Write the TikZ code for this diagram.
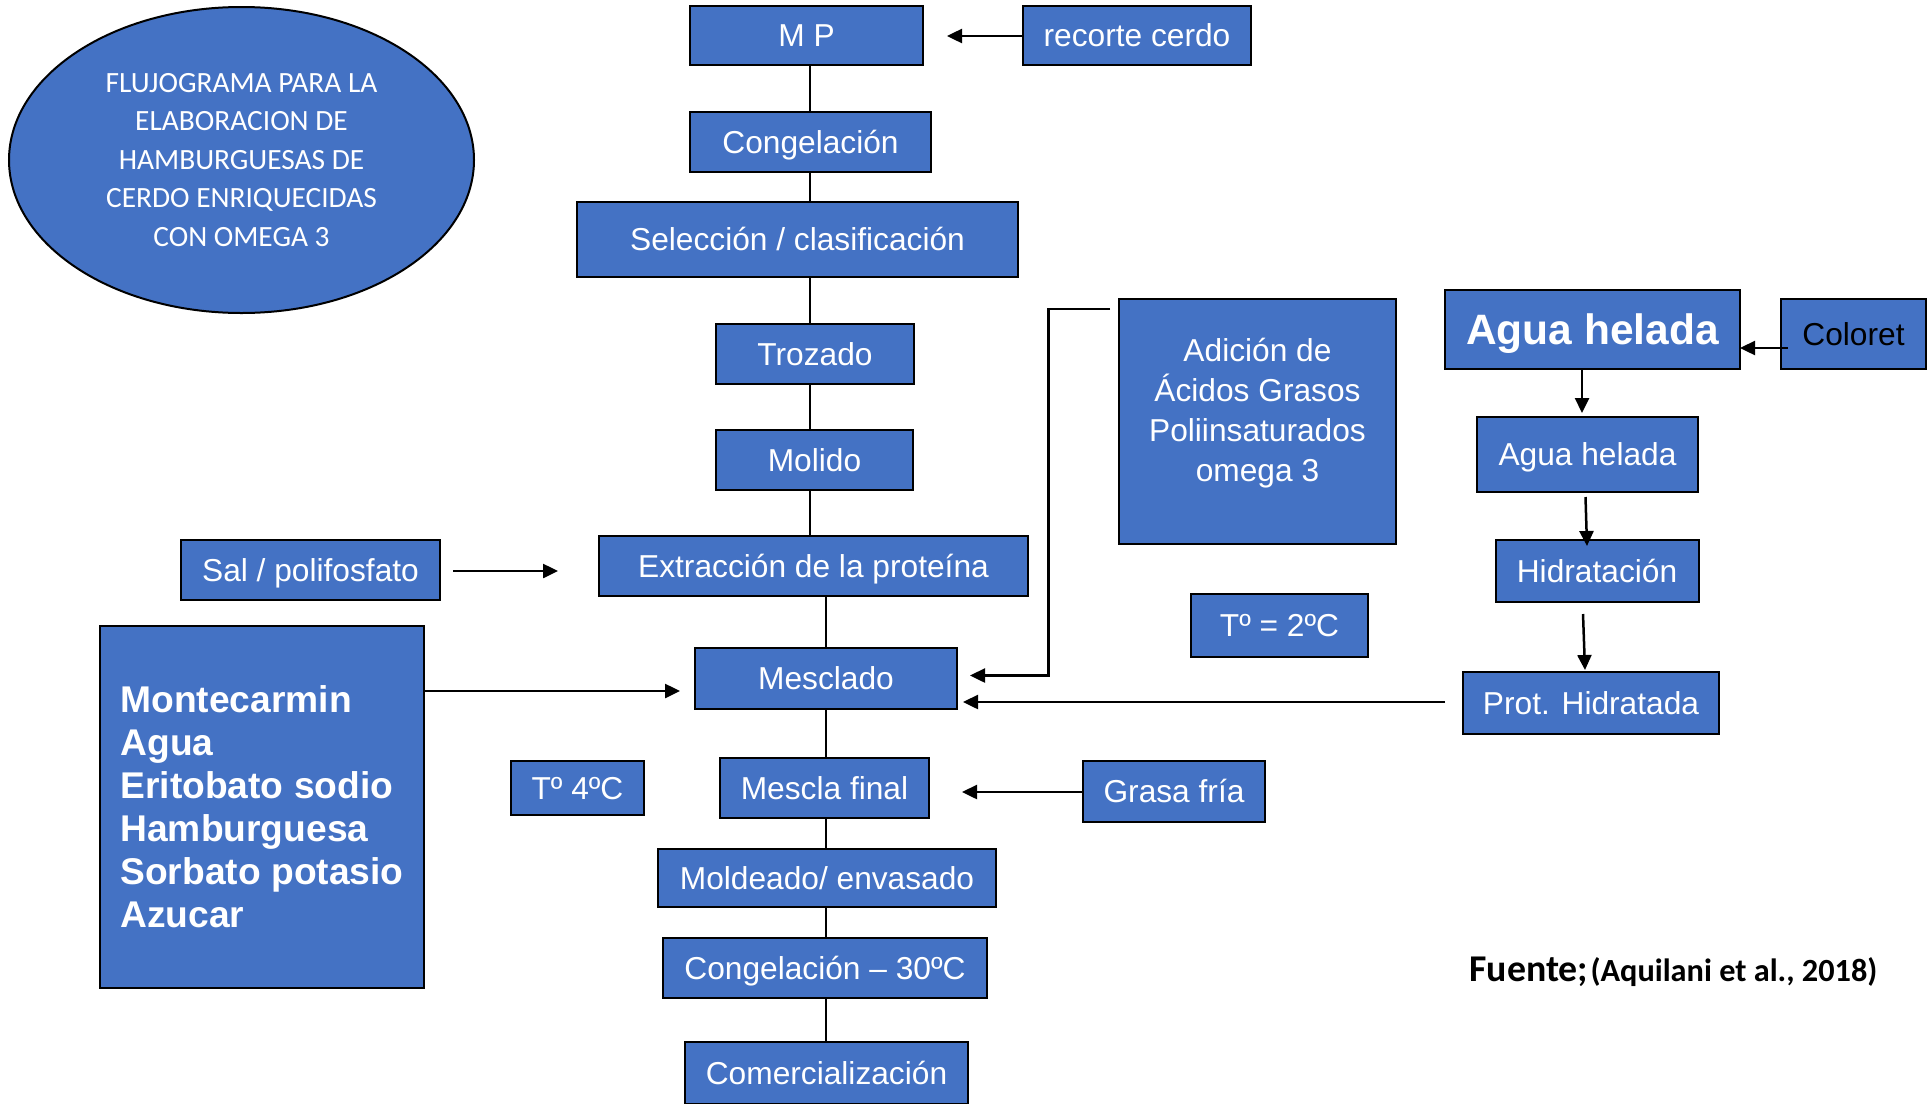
\documentclass[tikz,border=0pt]{standalone}
\usepackage{fontspec}
\setmainfont{Liberation Sans}
\newfontfamily\calibri{Carlito}
\usepackage{tikz}
\usetikzlibrary{shapes.geometric}
\usetikzlibrary{arrows.meta}
\definecolor{azul}{HTML}{4472C4}
\newcommand{\letranormal}{\fontsize{31.7pt}{40pt}\selectfont}
\tikzstyle{caja}=[draw=black, fill=azul, line width=2pt, inner sep=0, outer sep=0,
                  text=white, align=center, font=\letranormal]
% one line boxes: baseline half a cap height below the middle
\tikzstyle{paso}=[caja, text height=22.7pt, text depth=0pt]
\tikzstyle{cajanegrita}=[caja, font=\fontsize{37.2pt}{43pt}\selectfont\bfseries, align=left]
\tikzstyle{titulo}=[caja, ellipse, font=\calibri\fontsize{29.4pt}{38.5pt}\selectfont]
\tikzstyle{linea}=[line width=2pt]
\tikzstyle{flecha}=[line width=2.5pt, -{Triangle[length=15pt, width=14pt]}]
\tikzstyle{flujograma}=[x=1pt, y=-1pt,
                        % Fix the page to the size of the original.
                        execute at begin picture={\useasboundingbox (0,0) rectangle (1932,1103);}]

\begin{document}
\begin{tikzpicture}[flujograma]
        \node[titulo, minimum width=465pt, minimum height=306pt] (Titulo) at (241.5, 160) {FLUJOGRAMA PARA LA\\ELABORACION DE\\HAMBURGUESAS DE\\CERDO ENRIQUECIDAS\\CON OMEGA 3};
        \node[paso, minimum width=233pt, minimum height=59pt] (MP) at (806.5, 35.5) {M P};
        \node[paso, minimum width=228pt, minimum height=59pt] (Rec) at (1137, 35.5) {recorte cerdo};
        \node[paso, minimum width=241pt, minimum height=60pt] (Cong) at (810.5, 142) {Congelación};
        \node[paso, minimum width=441pt, minimum height=75pt] (Sel) at (797.5, 239.5) {Selección / clasificación};
        \node[paso, minimum width=198pt, minimum height=60pt] (Troz) at (815, 354) {Trozado};
        \node[paso, minimum width=197pt, minimum height=60pt] (Mol) at (814.5, 460) {Molido};
        \node[paso, minimum width=429pt, minimum height=60pt] (Ext) at (813.5, 566) {Extracción de la proteína};
        \node[paso, minimum width=262pt, minimum height=61pt] (Mes) at (826, 678) {Mesclado};
        \node[paso, minimum width=209pt, minimum height=60pt] (MesF) at (824.5, 788) {Mescla final};
        \node[paso, minimum width=338pt, minimum height=58pt] (Mold) at (827, 878) {Moldeado/ envasado};
        \node[paso, minimum width=324pt, minimum height=60pt] (Cong2) at (825, 968) {Congelación – 30ºC};
        \node[paso, minimum width=283pt, minimum height=62pt] (Com) at (826.5, 1073) {Comercialización};
        \node[paso, minimum width=259pt, minimum height=60pt] (Sal) at (310.5, 570) {Sal / polifosfato};
        \node[cajanegrita, minimum width=324pt, minimum height=362pt] (Ing) at (262, 807) {Montecarmin\\Agua\\Eritobato sodio\\Hamburguesa\\Sorbato potasio\\Azucar};
        \node[paso, minimum width=133pt, minimum height=54pt] (T4) at (577.5, 788) {Tº 4ºC};
        \node[paso, minimum width=182pt, minimum height=61pt] (Grasa) at (1174, 791.5) {Grasa fría};
        \node[caja, minimum width=277pt, minimum height=245pt] (Omega) at (1257.5, 421.5) {Adición de\\Ácidos Grasos\\Poliinsaturados\\omega 3\\[-16pt]\mbox{}};
        \node[paso, minimum width=177pt, minimum height=63pt] (T2) at (1279.5, 625.5) {Tº = 2ºC};
        \node[paso, minimum width=295pt, minimum height=79pt, text height=30.4pt, font=\fontsize{42.5pt}{48pt}\selectfont\bfseries] (AguaH) at (1592.5, 329) {Agua helada};
        \node[paso, minimum width=145pt, minimum height=70pt, text=black] (Col) at (1853.5, 334) {Coloret};
        \node[paso, minimum width=221pt, minimum height=75pt] (Agua) at (1587.5, 454.5) {Agua helada};
        \node[paso, minimum width=203pt, minimum height=62pt] (Hid) at (1597, 571) {Hidratación};
        \node[paso, minimum width=256pt, minimum height=62pt] (Prot) at (1591, 703) {Prot. Hidratada};
        \node[anchor=base west, font=\calibri\bfseries] (Fuente) at (1466, 981) {{\fontsize{37.8pt}{40pt}\selectfont Fuente;} {\fontsize{32.3pt}{36pt}\selectfont (Aquilani et al., 2018)}};
        % main line of the process
        \coordinate (ejeA) at (809.5, 0);
        \coordinate (ejeB) at (825.5, 0);
        \draw[linea] (MP.south -| ejeA) -- (Cong.north -| ejeA);
        \draw[linea] (Cong.south -| ejeA) -- (Sel.north -| ejeA);
        \draw[linea] (Sel.south -| ejeA) -- (Troz.north -| ejeA);
        \draw[linea] (Troz.south -| ejeA) -- (Mol.north -| ejeA);
        \draw[linea] (Mol.south -| ejeA) -- (Ext.north -| ejeA);
        \draw[linea] (Ext.south -| ejeB) -- (Mes.north -| ejeB);
        \draw[linea] (Mes.south -| ejeB) -- (MesF.north -| ejeB);
        \draw[linea] (MesF.south -| ejeB) -- (Mold.north -| ejeB);
        \draw[linea] (Mold.south -| ejeB) -- (Cong2.north -| ejeB);
        \draw[linea] (Cong2.south -| ejeB) -- (Com.north -| ejeB);
        % inputs
        \coordinate (recFin) at (947, 36);
        \draw[flecha] (Rec.west |- recFin) -- (recFin);
        \coordinate (salIni) at (453, 571);
        \coordinate (salFin) at (558, 571);
        \draw[flecha] (salIni) -- (salFin);
        \coordinate (ingFin) at (680, 691);
        \draw[flecha] (Ing.east |- ingFin) -- (ingFin);
        \coordinate (grasaFin) at (962, 792);
        \draw[flecha] (Grasa.west |- grasaFin) -- (grasaFin);
        \coordinate (omIni) at (1110, 309);
        \coordinate (omCodo) at (1048.5, 675.5);
        \coordinate (omFin) at (970, 675.5);
        \draw[flecha] (omIni) -| (omCodo) -- (omFin);
        \coordinate (protIni) at (1445, 702);
        \coordinate (protFin) at (963, 702);
        \draw[flecha] (protIni) -- (protFin);
        % water branch
        \coordinate (colIni) at (1787.5, 348);
        \draw[flecha] (colIni) -- (AguaH.east |- colIni);
        \coordinate (agua1) at (1582, 413);
        \draw[flecha] (AguaH.south -| agua1) -- (agua1);
        \coordinate (agua2a) at (1585.5, 497);
        \coordinate (agua2b) at (1587, 546);
        \draw[flecha] (agua2a) -- (agua2b);
        \coordinate (agua3a) at (1583, 614);
        \coordinate (agua3b) at (1585, 670);
        \draw[flecha] (agua3a) -- (agua3b);
    \end{tikzpicture}
\end{document}
